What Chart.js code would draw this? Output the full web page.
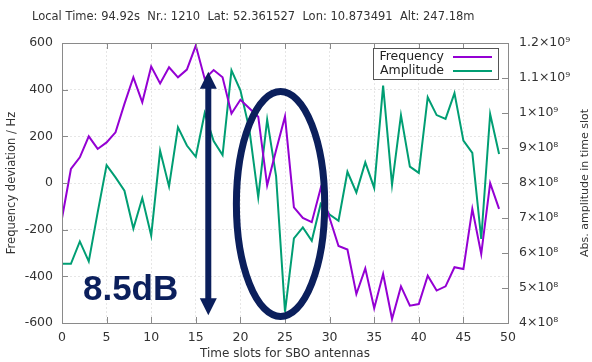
<!DOCTYPE html>
<html>
<head>
<meta charset="utf-8">
<script src="https://cdn.jsdelivr.net/npm/chart.js@4.4.1/dist/chart.umd.min.js"></script>
<style>
  html, body { margin: 0; padding: 0; background: #fff; }
  #wrap { width: 592px; height: 362px; }
</style>
</head>
<body>
<div id="wrap"><canvas id="chart" width="592" height="362"></canvas></div>
<script>
const headerText = 'Local Time: 94.92s  Nr.: 1210  Lat: 52.361527  Lon: 10.873491  Alt: 247.18m';
const rightTitle = 'Abs. amplitude in time slot';

const slots = [0, 1, 2, 3, 4, 5, 6, 7, 8, 9, 10, 11, 12, 13, 14, 15, 16, 17, 18, 19, 20, 21, 22, 23, 24,
  25, 26, 27, 28, 29, 30, 31, 32, 33, 34, 35, 36, 37, 38, 39, 40, 41, 42, 43, 44, 45, 46, 47, 48, 49];

// Hz
const frequency = [-151, 60, 110, 200, 146, 174, 217, 339, 453, 346, 499, 427, 496, 453, 486, 589, 446, 484, 453, 298,
  357, 320, 284, -10, 140, 285, -104, -150, -168, -22, -150, -270, -285, -476, -366, -537, -390, -583, -443, -526,
  -519, -397, -461, -443, -361, -369, -111, -304, -1, -111];

// abs. amplitude
const amplitude = [5.69e8, 5.69e8, 6.33e8, 5.76e8, 7.16e8, 8.51e8, 8.16e8, 7.78e8, 6.70e8, 7.57e8, 6.50e8, 8.92e8,
  7.90e8, 9.59e8, 9.07e8, 8.75e8, 10.0e8, 9.2e8, 8.8e8, 11.22e8, 10.65e8, 9.54e8, 7.59e8, 9.81e8, 8.2e8, 4.32e8,
  6.42e8, 6.73e8, 6.35e8, 7.4e8, 7.1e8, 6.92e8, 8.32e8, 7.73e8, 8.59e8, 7.86e8, 10.78e8, 7.95e8, 9.94e8, 8.47e8,
  8.29e8, 10.45e8, 9.94e8, 9.83e8, 10.57e8, 9.21e8, 8.86e8, 6.40e8, 9.97e8, 8.83e8];

const seriesNames = ['Frequency', 'Amplitude'];
const seriesColors = ['#9400d3', '#009e73'];

// annotation overlay (data coordinates)
const noteText = '8.5dB';
const noteColor = '#0b1f5c';

const FONT = '"DejaVu Sans", sans-serif';
const TXT = '#333';
const FRAME = '#8a8a8a';

const supMap = { '8': '\u2078', '9': '\u2079' };
function ampLabel(v) {
  if (v >= 1e9 - 1) {
    const m = Math.round(v / 1e8) / 10;
    return m + '\u00d710' + supMap['9'];
  }
  return Math.round(v / 1e8) + '\u00d710' + supMap['8'];
}

const overlay = {
  id: 'overlay',
  afterDraw(chart) {
    const ctx = chart.ctx;
    const a = chart.chartArea;
    const xs = chart.scales.x, ys = chart.scales.y, y1 = chart.scales.y1;
    ctx.save();

    // frame
    ctx.strokeStyle = FRAME;
    ctx.lineWidth = 1;
    ctx.strokeRect(Math.round(a.left) + 0.5, Math.round(a.top) + 0.5, Math.round(a.width), Math.round(a.height));

    // inward tick marks
    ctx.beginPath();
    xs.ticks.forEach(t => {
      const px = Math.round(xs.getPixelForValue(t.value)) + 0.5;
      ctx.moveTo(px, a.bottom); ctx.lineTo(px, a.bottom - 6);
      ctx.moveTo(px, a.top); ctx.lineTo(px, a.top + 6);
    });
    ys.ticks.forEach(t => {
      const py = Math.round(ys.getPixelForValue(t.value)) + 0.5;
      ctx.moveTo(a.left, py); ctx.lineTo(a.left + 6, py);
    });
    y1.ticks.forEach(t => {
      const py = Math.round(y1.getPixelForValue(t.value)) + 0.5;
      ctx.moveTo(a.right, py); ctx.lineTo(a.right - 6, py);
    });
    ctx.stroke();

    // header
    ctx.fillStyle = TXT;
    ctx.font = '11.5px ' + FONT;
    ctx.textAlign = 'left';
    ctx.textBaseline = 'middle';
    ctx.fillText(headerText, 32, 17);

    // right axis title, reading upwards
    ctx.save();
    ctx.translate(585, (a.top + a.bottom) / 2);
    ctx.rotate(-Math.PI / 2);
    ctx.font = '11px ' + FONT;
    ctx.textAlign = 'center';
    ctx.fillText(rightTitle, 0, 0);
    ctx.restore();

    // legend box
    const lx0 = a.right - 135, lx1 = a.right - 10, ly0 = a.top + 5, ly1 = a.top + 36;
    ctx.fillStyle = '#fff';
    ctx.fillRect(lx0, ly0, lx1 - lx0, ly1 - ly0);
    ctx.strokeStyle = '#555';
    ctx.strokeRect(lx0 + 0.5, ly0 + 0.5, lx1 - lx0, ly1 - ly0);
    ctx.font = '12.5px ' + FONT;
    ctx.textAlign = 'right';
    seriesNames.forEach((n, i) => {
      const yy = ly0 + 9 + i * 14;
      ctx.fillStyle = '#222';
      ctx.fillText(n, lx1 - 54, yy);
      ctx.strokeStyle = seriesColors[i];
      ctx.lineWidth = 2;
      ctx.beginPath();
      ctx.moveTo(lx1 - 45, yy); ctx.lineTo(lx1 - 6, yy);
      ctx.stroke();
    });

    // annotation: double arrow
    ctx.fillStyle = noteColor;
    ctx.strokeStyle = noteColor;
    const ax = xs.getPixelForValue(16.4);
    const aTop = ys.getPixelForValue(477);
    const aBot = ys.getPixelForValue(-567);
    const hh = 17, hw = 8.5;
    ctx.lineWidth = 6;
    ctx.beginPath();
    ctx.moveTo(ax, aTop + hh - 2); ctx.lineTo(ax, aBot - hh + 2);
    ctx.stroke();
    ctx.beginPath();
    ctx.moveTo(ax, aTop); ctx.lineTo(ax + hw, aTop + hh); ctx.lineTo(ax - hw, aTop + hh); ctx.closePath();
    ctx.fill();
    ctx.beginPath();
    ctx.moveTo(ax, aBot); ctx.lineTo(ax + hw, aBot - hh); ctx.lineTo(ax - hw, aBot - hh); ctx.closePath();
    ctx.fill();

    // ellipse
    const ecx = xs.getPixelForValue(24.5);
    const ecy = ys.getPixelForValue(-90);
    const erx = xs.getPixelForValue(24.5 + 4.95) - ecx;
    const ery = ys.getPixelForValue(-90) - ys.getPixelForValue(-90 + 482);
    ctx.lineWidth = 7;
    ctx.beginPath();
    ctx.ellipse(ecx, ecy, erx, ery, 0, 0, Math.PI * 2);
    ctx.stroke();

    // label
    ctx.font = 'bold 35px "Liberation Sans", Arial, sans-serif';
    ctx.textAlign = 'left';
    ctx.textBaseline = 'alphabetic';
    ctx.fillText(noteText, xs.getPixelForValue(2.35), ys.getPixelForValue(-503));

    ctx.restore();
  }
};

new Chart(document.getElementById('chart'), {
  type: 'line',
  data: {
    labels: slots,
    datasets: [
      { label: seriesNames[0], data: slots.map((s, i) => ({ x: s, y: frequency[i] })), yAxisID: 'y',
        borderColor: seriesColors[0], borderWidth: 2, pointRadius: 0, tension: 0, fill: false },
      { label: seriesNames[1], data: slots.map((s, i) => ({ x: s, y: amplitude[i] })), yAxisID: 'y1',
        borderColor: seriesColors[1], borderWidth: 2, pointRadius: 0, tension: 0, fill: false }
    ]
  },
  options: {
    responsive: false,
    animation: false,
    devicePixelRatio: 1,
    layout: { padding: { top: 43, left: 0, right: 0, bottom: 0 } },
    plugins: { legend: { display: false }, tooltip: { enabled: false }, title: { display: false } },
    scales: {
      x: {
        type: 'linear', min: 0, max: 50,
        ticks: { stepSize: 5, color: TXT, font: { family: FONT, size: 12.5 }, padding: 7, maxRotation: 0 },
        grid: { color: '#e6e6e6', drawTicks: false },
        border: { display: false, dash: [2, 2] },
        title: { display: true, text: 'Time slots for SBO antennas', color: TXT, font: { family: FONT, size: 12 }, padding: { top: 0, bottom: 1 } },
        afterFit(s) { s.height = 39; }
      },
      y: {
        position: 'left', min: -600, max: 600,
        ticks: { stepSize: 200, color: TXT, font: { family: FONT, size: 12.5 }, padding: 9 },
        grid: { color: '#e6e6e6', drawTicks: false },
        border: { display: false, dash: [2, 2] },
        title: { display: true, text: 'Frequency deviation / Hz', color: TXT, font: { family: FONT, size: 11.5 }, padding: { top: 5, bottom: 0 } },
        afterFit(s) { s.width = 62; }
      },
      y1: {
        position: 'right', min: 4e8, max: 12e8,
        ticks: { stepSize: 1e8, color: TXT, font: { family: FONT, size: 12.5 }, padding: 11, callback: v => ampLabel(v) },
        grid: { display: false, drawTicks: false },
        border: { display: false },
        title: { display: false },
        afterFit(s) { s.width = 84; }
      }
    }
  },
  plugins: [overlay]
});
</script>
</body>
</html>
